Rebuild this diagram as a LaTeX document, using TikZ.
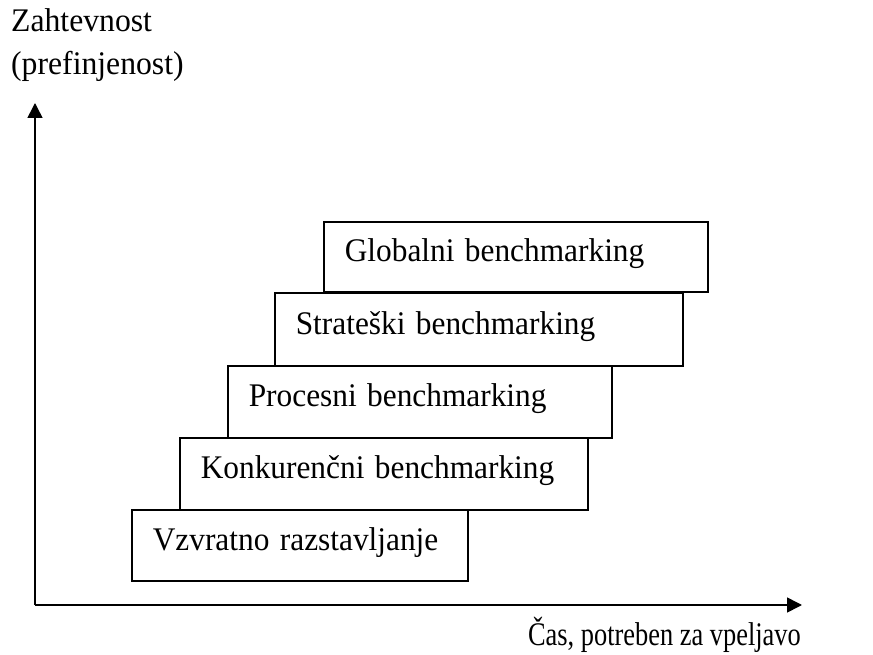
\documentclass[tikz,border=0pt]{standalone}
\usepackage{fontspec}
\setmainfont{Liberation Serif}
\usetikzlibrary{arrows.meta}
\newcommand{\nar}[2]{\scalebox{#1}[1]{#2}}
\begin{document}
\begin{tikzpicture}[x=1pt,y=1pt,font=\fontsize{33}{38}\selectfont]
\tikzstyle{st}=[rectangle,draw,line width=1.6pt,inner xsep=21pt,align=left,anchor=south west,text height=20pt,text depth=11pt]
\tikzstyle{ax}=[line width=1.6pt,-{Triangle[length=15pt,width=15pt]}]
\useasboundingbox (0,0) rectangle (873,654);
\coordinate (o) at (35,49);
\coordinate (yt) at (35,551);
\coordinate (xt) at (802,49);
\draw[ax] (o)--(yt);
\draw[ax] (o)--(xt);
\node[anchor=base west,inner sep=0] (zah) at (11,622) {\nar{0.96}{Zahtevnost}};
\node[anchor=base west,inner sep=0] (pref) at (11,579) {\nar{0.96}{(prefinjenost)}};
\node[anchor=base east,inner sep=0] (cas) at (801,9) {\nar{0.8}{Čas, potreben za vpeljavo}};
\node[st,text width=294pt,minimum height=71pt] (vz) at (131,72) {\nar{0.95}{Vzvratno razstavljanje}};
\node[st,text width=366pt,minimum height=72pt] (kon) at (179,143) {\nar{0.95}{Konkurenčni benchmarking}};
\node[st,text width=342pt,minimum height=72pt] (pro) at (227,215) {\nar{0.95}{Procesni benchmarking}};
\node[st,text width=366pt,minimum height=73pt] (str) at (274,287) {\nar{0.95}{Strateški benchmarking}};
\node[st,text width=342pt,minimum height=70pt] (glo) at (323,361) {\nar{0.95}{Globalni benchmarking}};
\end{tikzpicture}
\end{document}
